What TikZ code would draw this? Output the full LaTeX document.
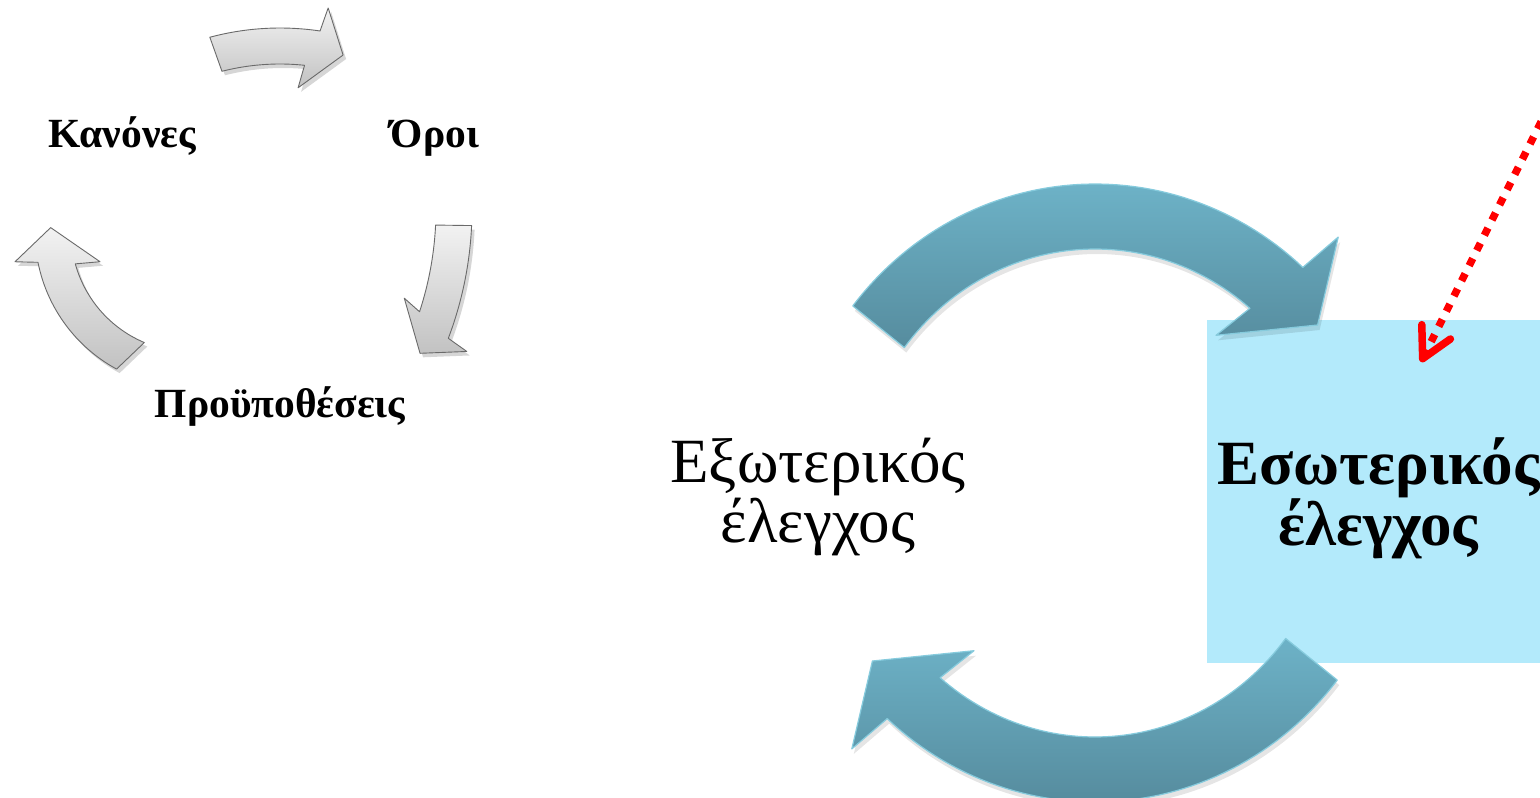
\documentclass[tikz,border=0pt]{standalone}
\usepackage{fontspec}
\setmainfont{Liberation Serif}
\usetikzlibrary{arrows.meta}
\definecolor{boxfill}{HTML}{B3EAFB}
\definecolor{bluetop}{HTML}{6DB2C7}
\definecolor{bluebot}{HTML}{568C9E}
\definecolor{blueedge}{HTML}{86CBDD}
\definecolor{gtop}{HTML}{F2F2F2}
\definecolor{gbot}{HTML}{C2C2C2}
\definecolor{gedge}{HTML}{6A6A6A}
\definecolor{redline}{HTML}{FF0000}

% gray cycle arrows (screen coordinates, y downwards)
\newcommand\gTop[1]{\path[#1] plot[domain=-105:-81.5,samples=30] ({280+271*cos(\x)},{299+271*sin(\x)}) -- ({280+295*cos(-80.6)},{299+295*sin(-80.6)}) -- ({280+252*cos(-75.5)},{299+252*sin(-75.5)}) -- ({280+212*cos(-85.1)},{299+212*sin(-85.1)}) -- plot[domain=-84:-104.3,samples=30] ({280+235*cos(\x)},{299+235*sin(\x)}) -- cycle;}
\newcommand\gRight[1]{\path[#1] plot[domain=2.6:20.75,samples=30] ({107+365*cos(\x)},{209+365*sin(\x)}) -- ({107+387*cos(21.6)},{209+387*sin(21.6)}) -- ({107+344.7*cos(24.75)},{209+344.7*sin(24.75)}) -- ({107+310.4*cos(16.7)},{209+310.4*sin(16.7)}) -- plot[domain=18.2:2.8,samples=30] ({107+329*cos(\x)},{209+329*sin(\x)}) -- cycle;}
\newcommand\gLeft[1]{\path[#1] plot[domain=118.5:168.8,samples=30] ({191+156*cos(\x)},{232+156*sin(\x)}) -- ({191+178.5*cos(170.4)},{232+178.5*sin(170.4)}) -- ({191+140.4*cos(181.8)},{232+140.4*sin(181.8)}) -- ({191+95.7*cos(161.9)},{232+95.7*sin(161.9)}) -- plot[domain=164.6:112.9,samples=30] ({191+120*cos(\x)},{232+120*sin(\x)}) -- cycle;}
% big blue circular arrow: #1,#2 centre, #3 = 1 or (-1) (rotation by 180 degrees), #4 style
\newcommand\bigArrow[4]{\path[#4] plot[domain=-142.1:-47.4,samples=60] ({#1+#3*307*cos(\x)},{#2+#3*316*sin(\x)}) -- ({#1+#3*243.2},{#2-#3*262.9}) -- ({#1+#3*222.6},{#2-#3*175}) -- ({#1+#3*121},{#2-#3*164.7}) -- plot[domain=-49.8:-142.6,samples=60] ({#1+#3*240*cos(\x)},{#2+#3*251*sin(\x)}) -- cycle;}

\begin{document}
\begin{tikzpicture}[x=1pt,y=-1pt,
  grayarrow/.style={top color=gtop, bottom color=gbot, draw=gedge, line width=0.9pt, line join=round},
  grayshadow/.style={fill=black, opacity=0.16},
  bluearrow/.style={top color=bluetop, bottom color=bluebot, draw=blueedge, line width=1.2pt, line join=round},
  blueshadow/.style={fill=black, opacity=0.10},
  cyclelbl/.style={font=\fontsize{41.5}{44}\selectfont\bfseries, inner sep=0pt, anchor=base},
  bigtxt/.style={align=center, font=\fontsize{63}{60}\selectfont, inner sep=0pt},
  boldtxt/.style={align=center, font=\fontsize{63}{60}\selectfont\bfseries, inner sep=0pt},
  innerbox/.style={fill=boxfill, minimum width=343pt, minimum height=343pt, inner sep=0pt},
  redarrow/.style={draw=redline, line width=7.5pt, dash pattern=on 8pt off 9pt, -{Straight Barb[length=30pt,width=32pt,round]}}
]
\useasboundingbox (0,0) rectangle (1540,798);
\clip (0,0) rectangle (1540,798);
\fill[white] (0,0) rectangle (1540,798);

% cycle of conditions (top left)
\begin{scope}[shift={(3,4)}]
  \gTop{grayshadow}
  \gRight{grayshadow}
  \gLeft{grayshadow}
\end{scope}
\gTop{grayarrow}
\gRight{grayarrow}
\gLeft{grayarrow}
\node[cyclelbl] (kan) at (122,147) {Κανόνες};
\node[cyclelbl] (oroi) at (435,147) {Όροι};
\node[cyclelbl] (proy) at (280,417) {Προϋποθέσεις};

% internal control box
\node[innerbox] (intbox) at (1378.5,491.5) {};
\node[boldtxt] (int) at (1378.5,498) {Εσωτερικός\\έλεγχος};
% external control text
\node[bigtxt] (ext) at (818,497) {Εξωτερικός\\έλεγχος};

% big blue circular arrows
\begin{scope}[shift={(2,5)}]
  \bigArrow{1095}{500}{1}{blueshadow}
  \bigArrow{1095}{486}{(-1)}{blueshadow}
\end{scope}
\bigArrow{1095}{500}{1}{bluearrow}
\bigArrow{1095}{486}{(-1)}{bluearrow}

% red dotted arrow
\coordinate (redstart) at (1602,0);
\coordinate (redtip) at (1421,362);
\draw[redarrow] (redstart) -- (redtip);
\end{tikzpicture}
\end{document}
